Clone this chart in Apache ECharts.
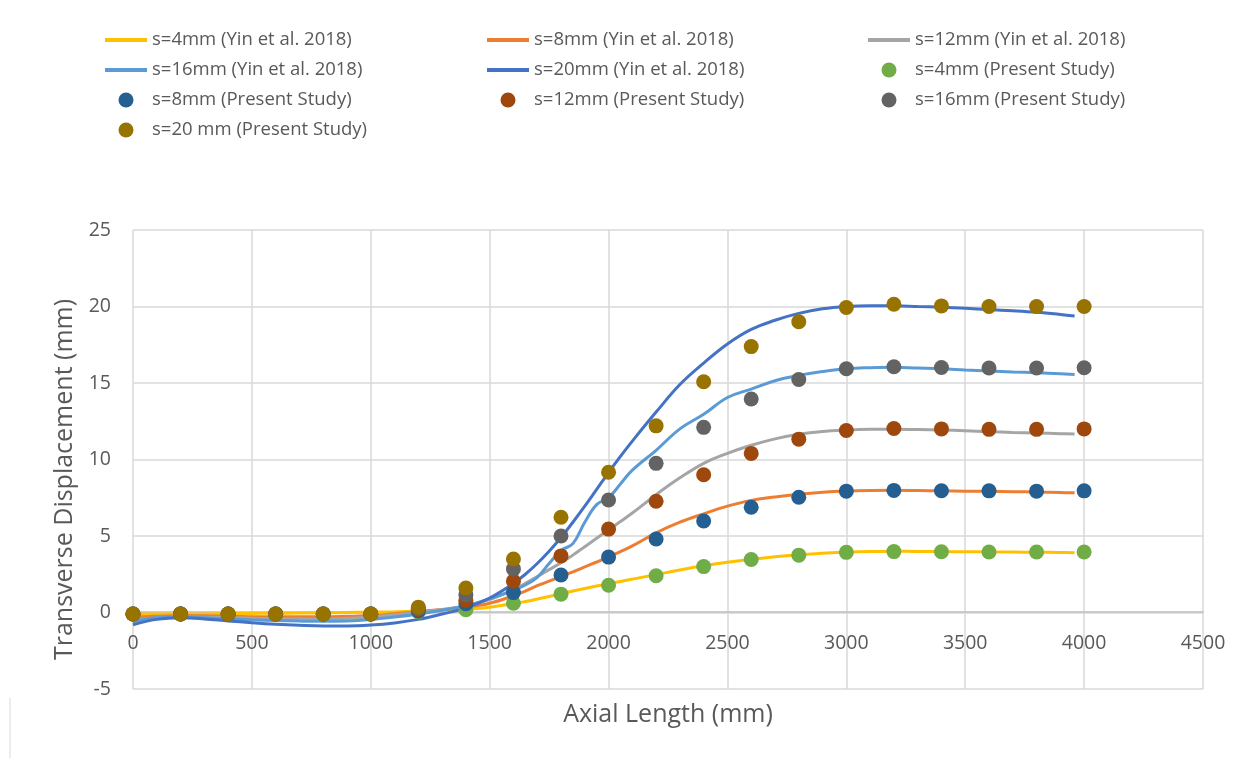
<!DOCTYPE html>
<html>
<head>
<meta charset="utf-8">
<script src="https://cdn.jsdelivr.net/npm/echarts@6/dist/echarts.min.js"></script>
<style>
  html, body { margin: 0; padding: 0; background: #ffffff; }
  #chart { width: 1255px; height: 758px; }
</style>
</head>
<body>
<div id="chart"></div>
<script>
// Axial positions sampled along the reference curves (Yin et al. 2018)
const LINE_X = [0, 100, 200, 300, 400, 500, 600, 700, 800, 900, 1000, 1100, 1200, 1300, 1400, 1500,
  1600, 1650, 1700, 1750, 1800, 1850, 1900, 1950, 2000, 2050, 2100,
  2200, 2300, 2400, 2500, 2600, 2700, 2800, 2900, 3000, 3100, 3200, 3300, 3400, 3500, 3600, 3700, 3800, 3900, 3960];

const YIN_S4 = [-0.1, -0.1, -0.1, -0.1, -0.08, -0.06, -0.05, -0.04, -0.02, 0, 0.02, 0.05, 0.1, 0.15, 0.22, 0.35,
  0.58, 0.72, 0.88, 1.05, 1.22, 1.4, 1.57, 1.73, 1.88, 2.03, 2.18,
  2.48, 2.78, 3.05, 3.28, 3.48, 3.65, 3.78, 3.88, 3.94, 3.98, 4.0, 3.99, 3.98, 3.97, 3.96, 3.95, 3.94, 3.92, 3.91];

const YIN_S8 = [-0.3, -0.25, -0.2, -0.22, -0.25, -0.27, -0.28, -0.28, -0.28, -0.25, -0.2, -0.08, 0.05, 0.2, 0.35, 0.6,
  1.1, 1.4, 1.75, 2.05, 2.35, 2.65, 2.98, 3.3, 3.63, 3.98, 4.35,
  5.2, 5.9, 6.45, 6.95, 7.33, 7.55, 7.73, 7.86, 7.94, 7.98, 7.99, 7.97, 7.95, 7.93, 7.92, 7.9, 7.87, 7.84, 7.82];

const YIN_S12 = [-0.5, -0.35, -0.3, -0.32, -0.35, -0.38, -0.4, -0.42, -0.42, -0.38, -0.3, -0.15, 0.0, 0.2, 0.45, 0.85,
  1.5, 1.9, 2.35, 2.8, 3.25, 3.75, 4.3, 4.85, 5.4, 5.95, 6.5,
  7.7, 8.8, 9.75, 10.4, 10.93, 11.35, 11.65, 11.83, 11.92, 11.97, 11.98, 11.96, 11.93, 11.88, 11.82, 11.77, 11.73, 11.69, 11.67];

const YIN_S16 = [-0.6, -0.35, -0.3, -0.35, -0.42, -0.48, -0.52, -0.56, -0.58, -0.55, -0.45, -0.3, -0.1, 0.15, 0.45, 0.9,
  1.45, 1.8, 2.3, 3.2, 4.05, 4.5, 5.9, 7.05, 7.5, 8.4, 9.3,
  10.6, 12.0, 12.95, 14.05, 14.6, 15.15, 15.5, 15.75, 15.93, 16.0, 16.03, 15.98, 15.93, 15.85, 15.78, 15.72, 15.67, 15.6, 15.55];

const YIN_S20 = [-0.8, -0.45, -0.35, -0.42, -0.55, -0.67, -0.77, -0.84, -0.88, -0.88, -0.82, -0.68, -0.45, -0.1, 0.3, 0.95,
  1.9, 2.5, 3.2, 4.0, 4.9, 5.9, 6.95, 8.05, 9.15, 10.2, 11.2,
  13.1, 14.9, 16.3, 17.55, 18.5, 19.1, 19.55, 19.85, 20.0, 20.05, 20.05, 20.0, 19.95, 19.88, 19.8, 19.72, 19.62, 19.48, 19.38];

// Present study: one value every 200 mm
const PS_X = [0, 200, 400, 600, 800, 1000, 1200, 1400, 1600, 1800, 2000, 2200, 2400, 2600, 2800, 3000, 3200, 3400, 3600, 3800, 4000];
const PS_S4  = [-0.1, -0.1, -0.1, -0.1, -0.1, -0.1, 0.05, 0.18, 0.6, 1.2, 1.78, 2.4, 3.0, 3.46, 3.75, 3.93, 3.98, 3.97, 3.95, 3.95, 3.95];
const PS_S8  = [-0.1, -0.1, -0.1, -0.1, -0.1, -0.1, 0.1, 0.57, 1.3, 2.45, 3.62, 4.8, 5.98, 6.88, 7.53, 7.93, 7.98, 7.96, 7.95, 7.93, 7.95];
const PS_S12 = [-0.1, -0.1, -0.1, -0.1, -0.1, -0.1, 0.2, 0.8, 2.05, 3.7, 5.45, 7.27, 9.0, 10.4, 11.33, 11.9, 12.03, 12.0, 11.97, 11.97, 12.0];
const PS_S16 = [-0.1, -0.1, -0.1, -0.1, -0.1, -0.1, 0.25, 1.15, 2.85, 5.0, 7.35, 9.75, 12.1, 13.95, 15.23, 15.93, 16.06, 16.01, 15.98, 15.98, 16.0];
const PS_S20 = [-0.1, -0.1, -0.1, -0.1, -0.1, -0.1, 0.35, 1.6, 3.5, 6.23, 9.17, 12.2, 15.08, 17.38, 19.0, 19.93, 20.15, 20.04, 20.0, 20.0, 20.0];

const X_TICKS = { min: 0, max: 4500, step: 500 };
const Y_TICKS = { min: -5, max: 25, step: 5 };

const LINE_NAMES = ['s=4mm (Yin et al. 2018)', 's=8mm (Yin et al. 2018)', 's=12mm (Yin et al. 2018)',
  's=16mm (Yin et al. 2018)', 's=20mm (Yin et al. 2018)'];
const PS_NAMES = ['s=4mm (Present Study)', 's=8mm (Present Study)', 's=12mm (Present Study)',
  's=16mm (Present Study)', 's=20 mm (Present Study)'];

const LINE_COLORS = ['#FFC000', '#ED7D31', '#A5A5A5', '#5B9BD5', '#4472C4'];
const PS_COLORS = ['#70AD47', '#255E91', '#9E480E', '#636363', '#997300'];

const zip = (xs, ys) => xs.map((x, i) => [x, ys[i]]);

const FONT = "'Open Sans', 'Liberation Sans', sans-serif";
const TEXT_COLOR = '#595959';

// Grid geometry: the x axis sits on the y = 0 line, which is 77 px above the plot bottom
const GRID = { left: 133, right: 52, top: 230, bottom: 69 };
const ZERO_LIFT = 77;

const lineSeries = [YIN_S4, YIN_S8, YIN_S12, YIN_S16, YIN_S20].map((ys, i) => ({
  name: LINE_NAMES[i],
  type: 'line',
  data: zip(LINE_X, ys),
  smooth: 0.4,
  symbol: 'none',
  lineStyle: { color: LINE_COLORS[i], width: 3 },
  itemStyle: { color: LINE_COLORS[i] },
  z: 2
}));

const scatterSeries = [PS_S4, PS_S8, PS_S12, PS_S16, PS_S20].map((ys, i) => ({
  name: PS_NAMES[i],
  type: 'scatter',
  data: zip(PS_X, ys),
  symbol: 'circle',
  symbolSize: 15,
  itemStyle: { color: PS_COLORS[i], opacity: 1 },
  z: 3
}));

// Legend entries: a flat bar for the curves, a dot for the point sets
const LINE_ICON = 'path://M0,0 L42,0 L42,4 L0,4 Z';
const lineEntry = (i) => ({ name: LINE_NAMES[i], icon: LINE_ICON });
const dotEntry = (i) => ({ name: PS_NAMES[i], icon: 'circle' });

const legendBase = {
  orient: 'vertical',
  top: 30,
  padding: 0,
  itemWidth: 42,
  itemHeight: 15,
  itemGap: 10,
  textStyle: { fontFamily: FONT, fontSize: 18.5, color: TEXT_COLOR, lineHeight: 20 }
};

const chart = echarts.init(document.getElementById('chart'), null, { renderer: 'canvas' });
chart.setOption({
  animation: false,
  backgroundColor: '#ffffff',
  grid: Object.assign({ containLabel: false, outerBoundsMode: 'none' }, GRID),
  legend: [
    Object.assign({}, legendBase, { left: 105, data: [lineEntry(0), lineEntry(3), dotEntry(1), dotEntry(4)] }),
    Object.assign({}, legendBase, { left: 487, data: [lineEntry(1), lineEntry(4), dotEntry(2)] }),
    Object.assign({}, legendBase, { left: 868, data: [lineEntry(2), dotEntry(0), dotEntry(3)] })
  ],
  xAxis: {
    type: 'value',
    min: X_TICKS.min, max: X_TICKS.max, interval: X_TICKS.step,
    offset: -ZERO_LIFT,
    name: 'Axial Length (mm)',
    nameLocation: 'middle',
    nameGap: 90,
    nameTextStyle: { fontFamily: FONT, fontSize: 25, color: TEXT_COLOR },
    axisLine: { show: true, onZero: false, lineStyle: { color: '#BFBFBF', width: 1.5 } },
    axisTick: { show: false },
    axisLabel: { fontFamily: FONT, fontSize: 19.5, color: TEXT_COLOR, margin: 21, formatter: (v) => String(v) },
    splitLine: { show: true, lineStyle: { color: '#D9D9D9', width: 1.5 } }
  },
  yAxis: {
    type: 'value',
    min: Y_TICKS.min, max: Y_TICKS.max, interval: Y_TICKS.step,
    name: 'Transverse Displacement (mm)',
    nameLocation: 'middle',
    nameGap: 52,
    // right padding nudges the rotated title a little lower along the axis
    nameTextStyle: { fontFamily: FONT, fontSize: 25, color: TEXT_COLOR, padding: [0, 40, 0, 0] },
    axisLine: { show: false },
    axisTick: { show: false },
    axisLabel: { fontFamily: FONT, fontSize: 19.5, color: TEXT_COLOR, margin: 22, formatter: (v) => String(v) },
    splitLine: { show: true, lineStyle: { color: '#D9D9D9', width: 1.5 } }
  },
  graphic: [
    { type: 'line', shape: { x1: 10, y1: 698, x2: 10, y2: 758 }, style: { stroke: '#D9D9D9', lineWidth: 1 }, silent: true }
  ],
  series: lineSeries.concat(scatterSeries)
});
</script>
</body>
</html>
